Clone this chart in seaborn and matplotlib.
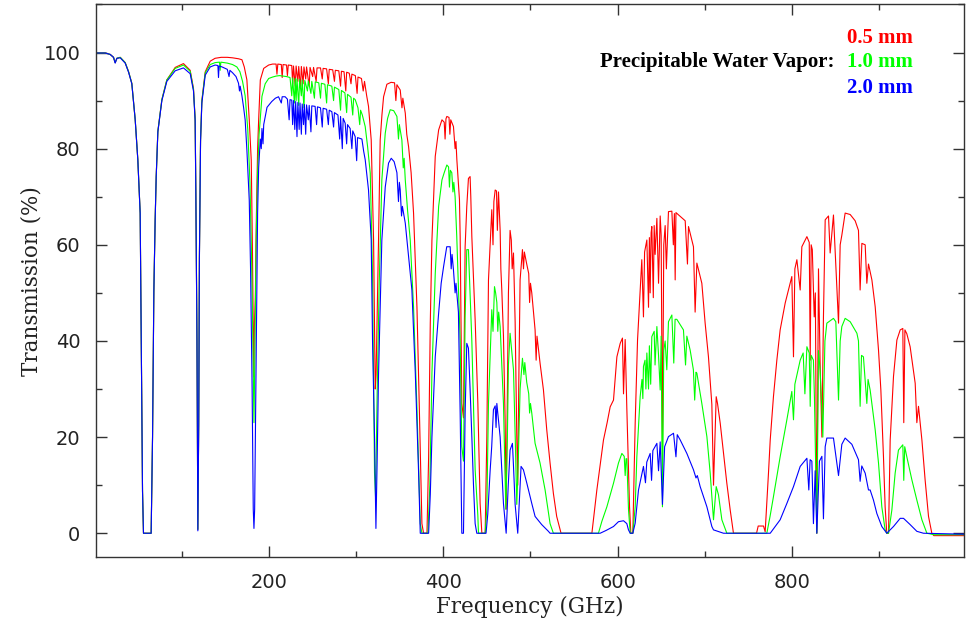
import pandas as pd
import matplotlib
matplotlib.use("Agg")
import matplotlib.pyplot as plt
import seaborn as sns
from matplotlib.ticker import MultipleLocator

# atmospheric transmission: (frequency GHz, transmission %)
pwv_labels = ["0.5 mm", "1.0 mm", "2.0 mm"]
pwv_colors = ["#ff0000", "#00ff00", "#0000ff"]

trans_05mm = [
    (1, 99.9), (12, 99.9), (17.6, 99.6), (21.4, 99.0), (23.3, 97.9), (25.3, 98.8), (29.1, 99.0),
    (34.8, 97.9), (38.7, 96.0), (42.4, 93.6), (46.3, 86.0), (49.3, 77.7), (52.0, 66.6), (53.2, 40.2),
    (54.7, 8.7), (55.8, 0), (64.6, 0), (66.2, 20), (67.7, 50.3), (69.2, 65.2), (70.4, 74.2),
    (72.3, 83.6), (76.9, 90.2), (82.6, 94.3), (92.2, 96.9), (101.7, 97.7), (109.4, 96.3),
    (113.2, 92.5), (115.1, 86.2), (115.9, 71), (117.2, 40), (118.2, 0.8), (119.2, 23), (120.0, 57.5),
    (121.3, 81.8), (122.8, 90), (126.7, 96), (132.4, 98.2), (138, 98.8), (145, 99.0), (152, 99.0),
    (158, 98.9), (164.9, 98.7), (168.8, 98.5), (171.5, 97), (174.5, 94.3), (177.2, 86), (179.5, 77.6),
    (180.8, 60), (181.7, 44), (182.4, 32.5), (183.2, 44), (184.2, 49), (185.3, 65), (186.8, 80),
    (188, 86), (189.9, 94.3), (193.8, 96.7), (199.5, 97.4),
    (204, 97.6), (208, 97.6), (209, 95.5), (210, 97.6), (214, 97.5), (215, 94.8), (216, 97.5),
    (220, 97.4), (221, 95.2), (222, 97.4), (226, 97.3), (227, 93.5), (228, 97.2), (230, 93),
    (231, 97.2), (233, 94), (234, 97.1), (236, 92.5), (237, 97.1), (239, 93.5), (240, 97.0),
    (242, 94.5), (243, 97.0), (246, 93), (247, 96.9), (250, 95), (251, 96.9), (254, 94), (255, 96.8),
    (259, 96.8), (261, 94.5), (262, 96.7), (266, 96.6), (268, 93.5), (269, 96.5), (273, 96.4),
    (275, 94), (276, 96.3), (280, 96.2), (282, 93), (283, 96.1), (286, 96.0), (288, 92), (289, 95.9),
    (292, 95.7), (294, 93.5), (295, 95.5), (299, 95.2), (301, 91.5), (302, 94.9), (306, 94.6),
    (308, 92), (309.5, 94.0), (312, 91), (314.1, 88.8), (317.2, 81.8), (319.9, 61), (321.8, 30),
    (322.8, 33), (324, 45), (325.6, 61), (327.5, 81.8), (329.5, 87), (331.4, 90.8), (335.2, 93.4),
    (340, 93.8), (344, 93.7), (345.5, 90), (346.7, 93.3), (350.5, 92.2), (352.5, 88.5), (353.5, 90.5),
    (356.3, 87.4), (358, 83), (360.1, 80.4), (363, 75), (365.8, 66.6), (369.7, 47), (372.4, 26.3),
    (375.4, 2), (377.3, 0), (381.2, 0), (383.1, 15.9), (385, 43.7), (386.9, 61), (390.7, 78.4),
    (394.6, 83.9), (398.4, 86), (401, 85.5), (402, 82), (403, 86.2), (404, 86.7), (406.5, 86.5),
    (407.5, 83), (408.5, 86), (411.6, 84.6), (413.5, 80), (414.5, 81.5), (415.5, 77.7), (418.5, 69.4),
    (419.3, 61.7), (421.2, 27), (423.1, 24), (425, 59.6), (426.9, 68), (428.8, 73.8), (430.7, 74.2),
    (431.5, 70), (432.7, 61.7), (436.5, 44.4), (439.6, 27), (442.2, 6.2), (444.2, 0), (448, 0),
    (449.9, 20), (451.8, 52.7), (455.6, 67.3), (457, 60), (458, 69), (459.5, 71.4), (461, 71.2),
    (462, 63), (463.3, 71), (465.2, 63), (466, 55), (467.1, 50.6), (469, 41), (470.9, 23.6),
    (472.1, 5), (473.5, 30), (474.7, 50), (476.6, 63), (478, 61), (479, 55), (480.5, 58.3),
    (482.4, 44), (484.3, 20), (485.4, 10), (486.5, 30), (488.1, 52.7), (490.8, 59), (492, 55),
    (493, 58.5), (495.7, 56), (498, 54), (499, 48), (500, 52), (501.5, 50), (503.5, 46), (505.3, 42.3),
    (506.5, 36), (507.5, 41), (511, 35.4), (514.9, 29.8), (518.7, 21.5), (522.5, 14.6), (526.3, 8.3),
    (530.1, 3.5), (535.1, 0),
    (570.5, 0), (576.2, 9), (583.8, 19.4), (588, 23), (591.5, 26.3), (595.3, 27.7), (599.2, 36.7),
    (603, 39.5), (605.6, 40.6), (606.8, 29), (608.7, 40.3), (610.6, 26), (613.7, 5.5), (615.2, 0),
    (617.5, 0), (620.2, 22.9), (622.9, 40.2), (625.9, 50.6), (627.8, 56.9), (629.7, 45), (631, 58.5),
    (633.6, 61), (635.5, 47), (636.5, 61.5), (637.4, 50), (638.5, 62.5), (639.3, 63.8), (641, 49),
    (642, 64), (643.1, 58), (645.1, 65.5), (647, 52), (648.9, 66), (650, 62), (651.5, 18), (653, 60),
    (654.6, 64), (656, 55), (658.4, 66.9), (662.3, 67), (664, 60), (665.2, 66.5), (666.1, 52.7),
    (667, 66.7), (671.9, 65.9), (677.6, 65), (680.2, 56), (681.4, 63.8), (687.1, 59.6), (689, 46),
    (691, 56.2), (696.7, 52), (700.5, 43.7), (704.3, 36.7), (708.2, 26.8), (710.1, 10), (713.2, 28.4),
    (714.7, 27), (717.8, 22.9), (721.6, 16.6), (725.4, 10.4), (729.3, 4.8), (733, 0),
    (759.5, 0), (761.4, 1.5), (767.5, 1.5), (769.4, 0.3), (773.2, 12.5), (775.2, 19.4), (778.9, 28.4),
    (782.8, 36), (786.6, 42.3), (792.4, 47.9), (800, 53.4), (801.9, 36.7), (803.5, 55), (805.8, 56.9),
    (809.6, 50.6), (811.5, 59.6), (817.3, 61.7), (820, 60.5), (821.1, 36), (822.2, 60), (823.5, 59),
    (825.7, 45), (827, 50), (828.7, 0), (830.6, 55), (832.5, 35), (834.5, 20), (836.3, 45),
    (838.3, 65.2), (842.1, 66), (844, 58.3), (847.8, 66.2), (853.6, 43.7), (855.5, 60), (857.4, 62),
    (861.2, 66.6), (867, 66.3), (872.7, 65), (876.5, 63), (878.4, 50.6), (880.4, 60.3), (884.2, 60),
    (886.1, 52), (888, 56), (891.9, 52.7), (895.7, 47.1), (899.5, 38.1), (902.2, 29.8), (905.2, 15.9),
    (907.1, 5.5), (909, 0), (911, 0), (912.9, 19.4), (916.7, 32.6), (920.6, 40.2), (924.4, 42.3),
    (927.4, 42.6), (928.5, 23), (929.8, 42.3), (932, 41.5), (935.8, 38.8), (941.6, 31.2), (943.5, 23),
    (945.4, 26.4), (949.3, 19.4), (953, 11.1), (956.9, 3.5), (960.7, 0), (963, -0.5), (998, -0.5),
]

trans_10mm = [
    (1, 99.9), (12, 99.9), (17.6, 99.6), (21.4, 99.0), (23.3, 97.9), (25.3, 98.8), (29.1, 99.0),
    (34.8, 97.9), (38.7, 96.0), (42.4, 93.6), (46.3, 86.0), (49.3, 77.7), (52.0, 66.6), (53.2, 40.2),
    (54.7, 8.7), (55.8, 0), (64.6, 0), (66.2, 20), (67.7, 50.3), (69.2, 65.2), (70.4, 74.2),
    (72.3, 83.6), (76.9, 90.2), (82.6, 94.3), (92.2, 96.7), (101.7, 97.4), (109.4, 96.1),
    (113.2, 92.3), (115.1, 86.1), (115.9, 70.9), (117.2, 40), (118.2, 0.8), (119.2, 23), (120.0, 57.5),
    (121.3, 81.8), (122.8, 89.9), (126.7, 95.8), (132.4, 97.5), (138, 97.9), (143, 98.0),
    (143.8, 96.3), (144.6, 98.0), (152, 97.8), (158, 97.5), (163, 97.0), (166.5, 96), (169.5, 94),
    (172.5, 91), (175.5, 84), (178, 73), (180, 56), (181.5, 38), (182.6, 23), (183.6, 36), (185, 60),
    (186.8, 75), (188.5, 83), (191.8, 90.9), (195.5, 93.5), (199.5, 94.6),
    (204, 94.9), (208, 95.1), (212, 95.2), (216, 95.1), (220, 95.0), (224, 94.8), (226, 91),
    (227, 94.7), (229, 89.5), (230, 94.6), (231, 90), (232, 94.5), (234, 89), (235, 94.4), (237, 91),
    (238, 94.3), (240, 88.5), (241, 94.2), (244, 92), (245, 94.1), (248, 91.5), (249, 94.0),
    (252, 90.5), (253, 93.9), (257, 93.7), (259, 90.5), (260, 93.6), (264, 93.4), (266, 89.5),
    (267, 93.3), (272, 93.0), (274, 90), (275, 92.8), (280, 92.3), (282, 88), (283, 92.1), (287, 91.6),
    (289, 87.5), (290, 91.3), (294, 90.7), (296, 87), (297, 90.5), (298.8, 90.2), (302, 88.5),
    (304, 85), (305, 88), (307, 87), (310.3, 84.6), (313, 80.5), (316.1, 74.9), (318.7, 54),
    (321, 12.5), (322.2, 7.5), (324.1, 30), (326.4, 52), (329.4, 73.5), (333.3, 83.2), (336, 86.3),
    (339, 88.1), (343, 87.9), (346.7, 86.7), (348.5, 82), (349.5, 85), (352.4, 81.8), (354, 76),
    (355, 78), (356.3, 73.5), (359, 67), (362, 61), (365.8, 47), (369.7, 26), (373.5, 2), (375.4, 0),
    (382.3, 0), (384.5, 10), (386.9, 33.3), (390.7, 54), (394.6, 68), (398.4, 73.5), (401, 75),
    (404, 76.6), (406, 76.2), (407, 72), (408, 75.5), (409.7, 75), (411, 71), (412, 73), (413.5, 70),
    (415.4, 61.7), (419.3, 40), (421.2, 18), (423.1, 15), (425, 45), (426.9, 59), (428.8, 59),
    (430.7, 50), (432.7, 40), (436.5, 13.2), (439.6, 3.7), (440.3, 0), (448, 0), (449.9, 5),
    (451.8, 27), (455.6, 46.5), (457, 42), (458.7, 51.3), (460, 50), (461.4, 48), (462.5, 42),
    (463.5, 46), (465.2, 43), (469, 27), (471.7, 5), (473.5, 20), (474.7, 35), (476.6, 41.6),
    (478.5, 38), (480.5, 34), (482.5, 20), (484.3, 6), (486, 15), (488.1, 30), (490.8, 36.4),
    (492.5, 33), (493.5, 35.5), (495.7, 31.4), (498, 29), (499, 25), (500, 27), (501.5, 25),
    (505.3, 18.7), (511, 14.6), (516.8, 9), (522.5, 2), (526.3, 0),
    (578, 0), (582, 2.5), (587.7, 5.5), (595.3, 10.4), (601, 14.6), (604.9, 16.6), (607.6, 16),
    (608.7, 12), (609.7, 15.5), (610.6, 15.5), (612.5, 5), (614.5, 0), (617.5, 0), (620.2, 5.5),
    (622.1, 15.9), (625.9, 28.4), (628, 32), (629, 28), (629.7, 34.7), (631.5, 36), (632.5, 30),
    (633.6, 37.5), (635.5, 30), (636.5, 39), (638, 31), (639.3, 40.9), (642, 42), (643, 35),
    (645.1, 43), (647, 37), (648.9, 29.8), (650, 41), (651.5, 5.5), (653, 38), (654.6, 40),
    (656.5, 34), (658.4, 44), (662.3, 45.4), (664.5, 35.4), (666, 44.5), (668, 44.5), (675.6, 42.3),
    (678, 35), (679.5, 41), (683.3, 38.1), (687, 34), (688.5, 27.7), (690, 33.5), (691, 33.3),
    (696.7, 27), (702.5, 20.1), (706.3, 12.5), (710.1, 2.8), (713.2, 9.7), (715.8, 8), (719.7, 2.8),
    (725.4, 0),
    (771.3, 0), (775, 3.5), (778.9, 7.6), (786.6, 15.9), (794.3, 23.6), (800, 29.5), (801.9, 23.6),
    (803.5, 31), (809.6, 36), (813, 37.5), (815, 29), (817.3, 38.8), (820, 37.5), (821.1, 26.4),
    (822.2, 37), (824.8, 36), (826, 28), (828.7, 0), (830.6, 38), (832.5, 34), (835.6, 20), (838, 40),
    (840.2, 43.7), (847.8, 44.7), (850.5, 44), (853.6, 27.7), (855.5, 40), (857.4, 43), (861.2, 44.7),
    (867, 44), (874.7, 41.6), (876.5, 40), (878.4, 26.4), (880, 37), (882.2, 36.7), (886.1, 27),
    (887.5, 32), (889.9, 29.8), (895.7, 21.5), (899.5, 14.6), (903.3, 5.5), (907.1, 0.7), (909, 0),
    (911, 0), (914.8, 4.8), (918.6, 12.5), (922.4, 17.3), (927.4, 18.4), (928.5, 11), (929.6, 18),
    (932, 15.9), (937.8, 11.1), (943.5, 6.9), (949.3, 2.8), (955, 0), (963, -0.3), (998, -0.3),
]

trans_20mm = [
    (1, 99.9), (12, 99.9), (17.6, 99.6), (21.4, 99.0), (23.3, 97.8), (25.3, 98.8), (29.1, 98.9),
    (34.8, 97.8), (38.7, 95.9), (42.4, 93.5), (46.3, 86.0), (49.3, 77.7), (52.0, 66.6), (53.2, 40.2),
    (54.7, 8.7), (55.8, 0), (64.6, 0), (66.2, 20), (67.7, 50.3), (69.2, 65.2), (70.4, 74.2),
    (72.3, 83.5), (76.9, 90.0), (82.6, 94.0), (92.2, 96.2), (101.7, 96.8), (109.4, 95.6),
    (113.2, 92.0), (115.1, 85.8), (115.9, 70.6), (117.2, 40), (118.2, 0.5), (119.2, 22.5), (120.0, 57),
    (121.3, 81.5), (122.8, 89.5), (126.7, 95.3), (132.4, 97.0), (138, 97.4), (141.2, 97.3),
    (141.9, 94.8), (142.6, 97.2), (146, 97.0), (152, 96.5), (154, 95), (155, 96.3), (158, 95.8),
    (162, 95.0), (164.9, 93.6), (166, 92), (166.8, 93), (168.8, 91), (170.7, 88.6), (172.5, 86),
    (174.5, 79.7), (177.2, 69.3), (178.7, 55), (180.5, 30), (181.8, 5), (182.6, 1), (183.4, 5),
    (184.8, 30), (185.8, 50), (186.8, 66.6), (188, 76), (189.9, 82), (191, 80), (191.8, 84.2),
    (193, 81), (193.8, 85), (197.6, 88.6), (203, 89.8), (207.2, 90.5), (210.8, 90.8), (214, 89.5),
    (215, 90.8), (218.4, 90.8), (221, 90.3), (223, 86), (224, 90.2), (226, 90.1), (227, 85), (228, 90),
    (229.5, 84), (230.5, 89.8), (232, 82.5), (233, 89.6), (234.5, 84), (235.5, 89.5), (237, 83),
    (238, 89.3), (239.5, 85), (240.5, 89.2), (242, 83), (243, 89.1), (245, 86), (246, 89.0),
    (248, 83.5), (249, 88.9), (252.8, 88.8), (254.5, 85), (255.5, 88.7), (259, 88.5), (261, 84.5),
    (262, 88.4), (266, 88.2), (268, 85), (269, 88.0), (272, 87.7), (274, 84.5), (275, 87.5), (279, 87.0),
    (281, 82), (282, 86.7), (284, 80), (285, 86.3), (287.3, 85.3), (289, 81), (290, 85.0), (293, 84.2),
    (295, 80), (296, 83.7), (298.8, 82.5), (300.5, 77.5), (301.5, 82.3), (306.5, 82), (308.5, 79.5),
    (310.3, 77.7), (312.5, 74), (314.1, 71.4), (317.2, 61), (318.7, 40.2), (321, 20), (322.6, 1),
    (324, 15), (325.6, 33), (327.5, 47), (329.4, 61), (333.3, 72), (337.1, 77), (340.2, 78),
    (343.5, 77.3), (346.7, 75), (348.5, 69), (349.5, 73), (350.5, 71.4), (352, 66), (353, 68),
    (356.3, 64.5), (360.1, 57.6), (363.9, 50.6), (367.8, 33.3), (371.6, 12.5), (373.5, 0), (383.1, 0),
    (385, 8), (386.9, 20), (390.7, 36.7), (394.6, 45.8), (397.5, 52), (400.3, 55.5), (403.9, 59.6),
    (407.8, 59.6), (409, 55), (410, 58), (411.6, 54.8), (413.5, 50), (414.5, 52), (417.3, 46),
    (419.3, 25), (421.2, 0), (423.1, 0), (425, 25), (426.9, 39.5), (428.8, 38.5), (430.7, 30),
    (432.7, 20.1), (434.6, 10), (436.5, 2), (438.4, 0), (449, 0), (451, 4), (453.7, 13), (455.5, 18),
    (457.5, 25.7), (459.5, 26.5), (460.5, 22), (461.4, 27), (463, 24), (465.2, 20), (469, 6.2),
    (472.1, 0), (474.5, 10), (476.6, 17.3), (479.3, 18.7), (480.5, 14), (482.4, 6), (485.4, 0),
    (487, 6), (489.2, 13.9), (491.9, 13.2), (495.7, 10.5), (501.5, 6.2), (505.3, 3.5), (512.9, 1.8),
    (520.6, 0.4), (522.5, 0),
    (580, 0), (587, 0.6), (595.3, 1.4), (601, 2.4), (606.8, 2.6), (610.6, 2.0), (612.5, 0.7),
    (614.5, 0), (617.5, 0), (620.2, 2.1), (624, 9), (629.7, 13.9), (632, 10.5), (633.5, 14.8),
    (637.4, 16.6), (639, 11), (640.5, 17.2), (645.1, 18.7), (647, 13), (648.9, 19), (651.5, 6),
    (654, 18), (658.4, 20.1), (664.2, 20.8), (667, 15.9), (668.5, 20.5), (671.9, 19.4), (679.5, 16.6),
    (687.1, 13.2), (690, 11.5), (691.5, 12), (694.8, 9.7), (702.5, 5.5), (708.2, 1.4), (710.1, 0.7),
    (721.6, 0),
    (775.2, 0), (786.6, 2.8), (794.3, 6.2), (801.9, 9.7), (809.6, 13.9), (817.3, 15.6), (819.5, 9),
    (821, 15.3), (823, 15), (824.8, 2), (826.8, 13), (828.7, 0), (831.7, 15), (834.5, 16), (836.3, 3),
    (838.3, 18), (840.2, 19.8), (847.8, 19.8), (853.6, 12), (857.4, 18.5), (861.2, 19.8),
    (868.9, 18.5), (876.5, 15.3), (878.4, 10.8), (880.3, 14), (884.2, 12.5), (888, 9), (889.9, 9),
    (893.7, 6.9), (897.6, 4.1), (903.3, 1.4), (909, 0), (916.7, 1.4), (924.4, 3.1), (928.2, 3.1),
    (935.8, 1.8), (943.5, 0.4), (951.1, 0), (998, -0.2),
]

frames = []
for label, pts in zip(pwv_labels, [trans_05mm, trans_10mm, trans_20mm]):
    freq, trans = zip(*pts)
    frames.append(pd.DataFrame({"freq": freq, "trans": trans, "pwv": label}))
df = pd.concat(frames, ignore_index=True)

sns.set_style("ticks", {"xtick.direction": "in", "ytick.direction": "in"})
plt.rcParams["font.family"] = ["DejaVu Serif"]

fig = plt.figure(figsize=(9.72, 6.27), dpi=100)
ax = fig.add_axes([0.0985, 0.1112, 0.8936, 0.8817])

for label, color in zip(pwv_labels, pwv_colors):
    sns.lineplot(data=df[df["pwv"] == label], x="freq", y="trans", color=color,
                 lw=0.8, estimator=None, sort=False, ax=ax)

ax.set_xlim(1, 998)
ax.set_ylim(-5, 110)
ax.xaxis.set_major_locator(MultipleLocator(200))
ax.xaxis.set_minor_locator(MultipleLocator(100))
ax.yaxis.set_major_locator(MultipleLocator(20))
ax.yaxis.set_minor_locator(MultipleLocator(10))
ax.tick_params(which="both", direction="in", top=True, right=True, color="#333333", width=1)
ax.tick_params(which="major", length=8, labelsize=14, pad=11, labelcolor="#222222")
ax.tick_params(which="minor", length=4.5)
for lab in ax.get_xticklabels() + ax.get_yticklabels():
    lab.set_family("DejaVu Sans")
for sp in ax.spines.values():
    sp.set_color("#333333")
    sp.set_linewidth(1.0)

ax.set_xlabel("Frequency (GHz)", fontsize=15.5, color="#222222")
ax.set_ylabel("Transmission (%)", fontsize=15.5, color="#222222")
ax.xaxis.label.set_va("center")
ax.xaxis.set_label_coords(0.5, -0.09)
ax.yaxis.label.set_va("center")
ax.yaxis.set_label_coords(-0.0745, 0.5)

ax.text(0.851, 0.8875, "Precipitable Water Vapor:", transform=ax.transAxes, ha="right",
        va="baseline", fontsize=15, fontweight="bold", family="Liberation Serif", color="black")
for label, color, ypos in zip(pwv_labels, pwv_colors, [0.9306, 0.8864, 0.8394]):
    ax.text(0.8653, ypos, label, transform=ax.transAxes, ha="left", va="baseline",
            fontsize=15, fontweight="bold", family="Liberation Serif", color=color)

fig.savefig("out.png", dpi=100)
